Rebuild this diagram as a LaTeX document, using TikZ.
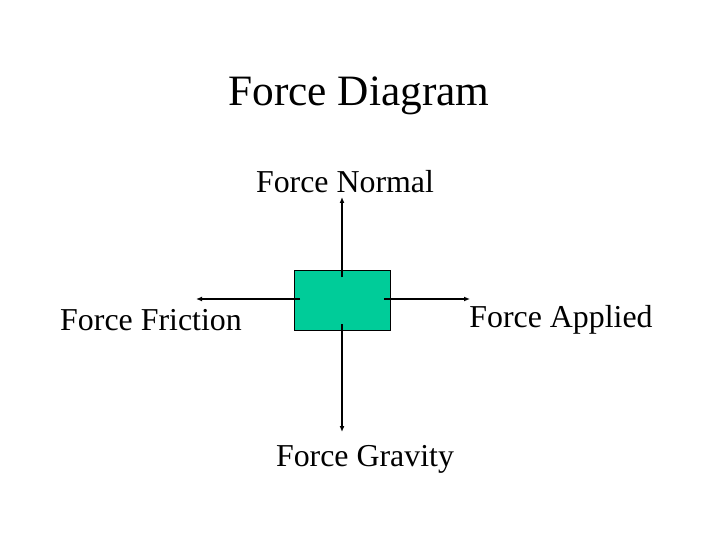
\documentclass[tikz,border=0pt]{standalone}
\usepackage{fontspec}
\setmainfont{Liberation Serif}
\usetikzlibrary{arrows.meta}
\begin{document}
\begin{tikzpicture}[x=1bp,y=-1bp,
  lbl/.style={inner sep=0pt,font=\fontsize{32}{36}\selectfont},
  arr/.style={line width=1.6bp,-{Latex[length=6bp,width=5bp]}}]
\useasboundingbox (0,0) rectangle (720,540);
\node[lbl,font=\fontsize{43.5}{48}\selectfont] (title) at (359,96) {Force Diagram};
\draw[fill={rgb,255:red,0;green,204;blue,153},line width=0.8bp] (294,270) rectangle (390,330);
\coordinate (up0) at (342,277); \coordinate (up1) at (342,197);
\coordinate (dn0) at (342,324); \coordinate (dn1) at (342,432);
\coordinate (lf0) at (300,299); \coordinate (lf1) at (196,299);
\coordinate (rt0) at (384,299); \coordinate (rt1) at (470,299);
\draw[arr] (up0) -- (up1);
\draw[arr] (dn0) -- (dn1);
\draw[arr] (lf0) -- (lf1);
\draw[arr] (rt0) -- (rt1);
\node[lbl] (n) at (345,182) {Force Normal};
\node[lbl] (f) at (151,320) {Force Friction};
\node[lbl] (a) at (561,320) {Force Applied};
\node[lbl] (g) at (365,459) {Force Gravity};
\end{tikzpicture}
\end{document}
